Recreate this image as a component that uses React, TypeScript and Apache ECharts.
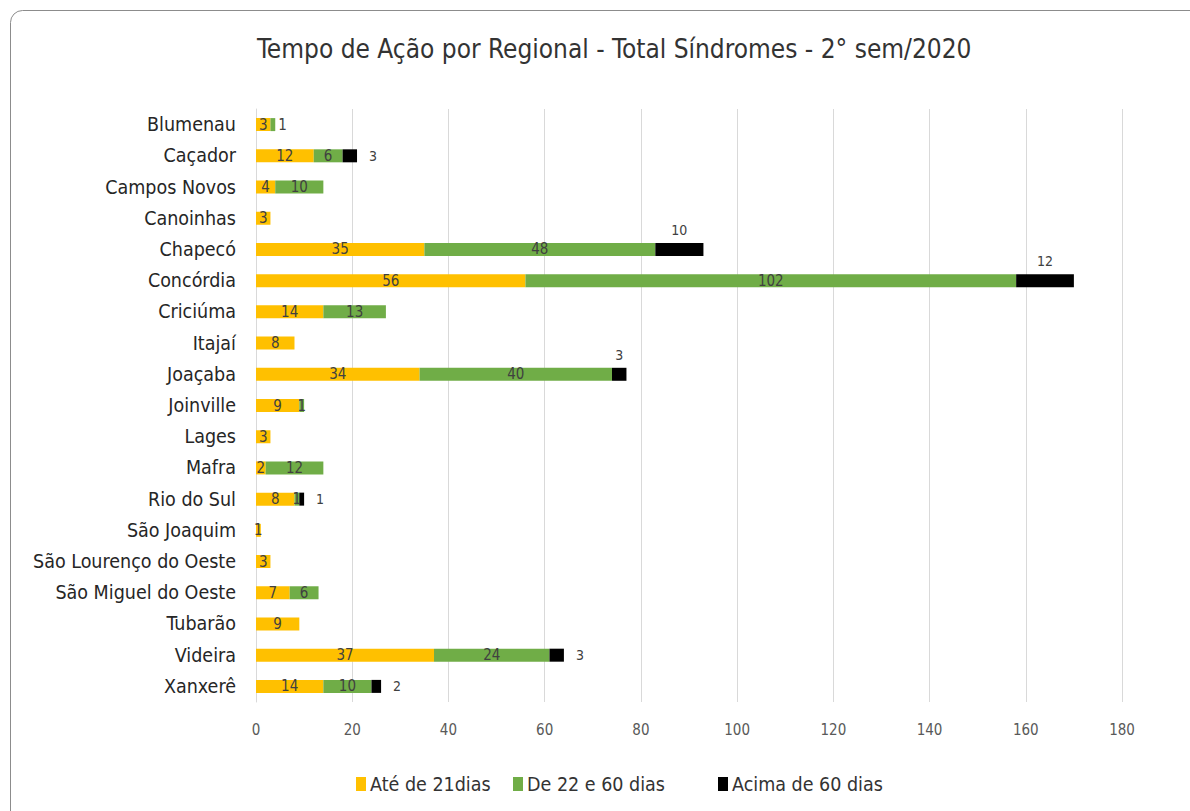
import React, { useEffect, useRef } from "react";
import * as echarts from "echarts";

const categories = [
  "Blumenau", "Caçador", "Campos Novos", "Canoinhas", "Chapecó", "Concórdia",
  "Criciúma", "Itajaí", "Joaçaba", "Joinville", "Lages", "Mafra", "Rio do Sul",
  "São Joaquim", "São Lourenço do Oeste", "São Miguel do Oeste", "Tubarão",
  "Videira", "Xanxerê",
];
const ate21 = [3, 12, 4, 3, 35, 56, 14, 8, 34, 9, 3, 2, 8, 1, 3, 7, 9, 37, 14];
const de22a60 = [1, 6, 10, 0, 48, 102, 13, 0, 40, 1, 0, 12, 1, 0, 0, 6, 0, 24, 10];
const acima60 = [0, 3, 0, 0, 10, 12, 0, 0, 3, 0, 0, 0, 1, 0, 0, 0, 0, 3, 2];
const seriesNames = ["Até de 21dias", "De 22 e 60 dias", "Acima de 60 dias"];
const xTicks = { min: 0, max: 180, interval: 20 };
const title = "Tempo de Ação por Regional - Total Síndromes - 2° sem/2020";
// labels placed above the bar instead of at the right (as in the reference)
const topLabelIdx = [4, 5, 8];
// green labels placed at the right
const rightGreenIdx = [0];

const FONT = "'Liberation Sans Narrow', 'DejaVu Sans Condensed', 'Open Sans', sans-serif";

export default function App() {
  const ref = useRef<HTMLDivElement>(null);
  useEffect(() => {
    if (!ref.current) return;
    const chart = echarts.init(ref.current, null, { renderer: "svg" });
    const fmt = (p: any) => (p.value ? String(p.value) : "");
    const labelBase = {
      show: true,
      color: "#404040",
      fontSize: 15,
      fontFamily: FONT,
      formatter: fmt,
    };
    const legendLefts = [356, 513, 718];
    chart.setOption({
      animation: false,
      backgroundColor: "#ffffff",
      textStyle: { fontFamily: FONT },
      title: {
        text: title,
        left: 252,
        top: 31,
        textStyle: { fontFamily: FONT, fontSize: 26, fontWeight: "normal", color: "#333333" },
      },
      graphic: [
        {
          type: "rect",
          shape: { x: 10.5, y: 10.5, width: 1200, height: 850, r: 12 },
          style: { fill: "none", stroke: "#8c8c8c", lineWidth: 1 },
          z: -1,
        },
      ],
      legend: seriesNames.map((n, i) => ({
        left: legendLefts[i],
        top: 774,
        itemWidth: 10,
        itemHeight: 14,
        icon: "rect",
        padding: 0,
        textStyle: { fontFamily: FONT, fontSize: 19.5, color: "#333333", padding: [0, 0, 0, -1] },
        data: [n],
      })),
      grid: { left: 256, right: 68, top: 109, bottom: 109, containLabel: false },
      xAxis: {
        type: "value",
        min: xTicks.min,
        max: xTicks.max,
        interval: xTicks.interval,
        axisLine: { show: false },
        axisTick: { show: false },
        splitLine: { lineStyle: { color: "#d9d9d9", width: 1 } },
        axisLabel: { color: "#595959", fontSize: 15, fontFamily: FONT, margin: 20 },
      },
      yAxis: {
        type: "category",
        data: categories,
        inverse: true,
        axisLine: { show: true, lineStyle: { color: "#d9d9d9" } },
        axisTick: { show: false },
        axisLabel: { color: "#262626", fontSize: 19.5, fontFamily: FONT, margin: 20 },
      },
      series: [
        {
          name: seriesNames[0],
          type: "bar",
          stack: "t",
          barWidth: 13,
          itemStyle: { color: "#FFC000" },
          label: { ...labelBase, position: "inside" },
          data: ate21.map((v) => (v ? v : null)),
        },
        {
          name: seriesNames[1],
          type: "bar",
          stack: "t",
          barWidth: 13,
          itemStyle: { color: "#70AD47" },
          label: { ...labelBase, position: "inside" },
          data: de22a60.map((v, i) =>
            !v
              ? null
              : rightGreenIdx.includes(i)
              ? { value: v, label: { position: "right", distance: 3 } }
              : v
          ),
        },
        {
          name: seriesNames[2],
          type: "bar",
          stack: "t",
          barWidth: 13,
          itemStyle: { color: "#000000" },
          label: { ...labelBase, position: "right", distance: 12, fontSize: 14 },
          data: acima60.map((v, i) =>
            !v
              ? null
              : topLabelIdx.includes(i)
              ? { value: v, label: { position: "top", distance: 6 } }
              : v
          ),
        },
      ],
    });
    return () => chart.dispose();
  }, []);
  return (
    <div
      ref={ref}
      style={{ position: "absolute", left: 0, top: 0, width: 1190, height: 811 }}
    />
  );
}
